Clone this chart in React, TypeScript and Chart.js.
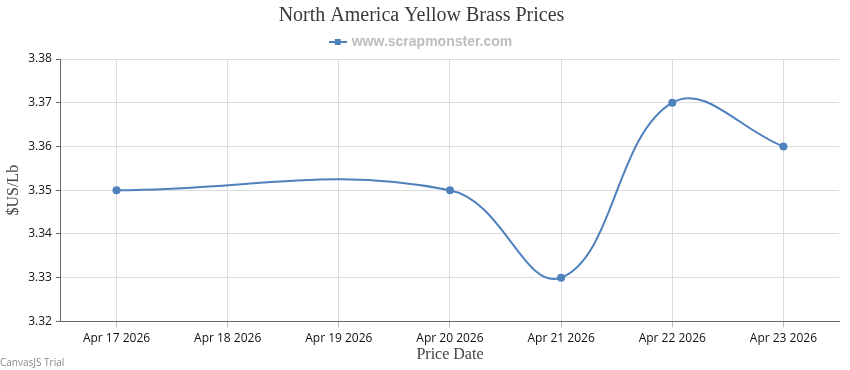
import React, { useEffect, useRef } from "react";
import { Chart, registerables } from "chart.js";

Chart.register(...registerables);

const tickLabels = [
  "Apr 17 2026",
  "Apr 18 2026",
  "Apr 19 2026",
  "Apr 20 2026",
  "Apr 21 2026",
  "Apr 22 2026",
  "Apr 23 2026",
];
const pointDates = ["Apr 17 2026", "Apr 20 2026", "Apr 21 2026", "Apr 22 2026", "Apr 23 2026"];
const prices = [3.35, 3.35, 3.33, 3.37, 3.36];
const yTicks = [3.32, 3.33, 3.34, 3.35, 3.36, 3.37, 3.38];

const LINE = "#4F81BC";

function makeMarker(): HTMLCanvasElement {
  const c = document.createElement("canvas");
  c.width = 18;
  c.height = 8;
  const ctx = c.getContext("2d")!;
  ctx.fillStyle = LINE;
  ctx.fillRect(0, 3, 18, 2);
  ctx.fillRect(6, 1, 6, 6);
  return c;
}

export default function App() {
  const ref = useRef<HTMLCanvasElement | null>(null);
  useEffect(() => {
    document.body.style.margin = "0";
    const marker = makeMarker();
    const data = pointDates.map((d, i) => ({ x: tickLabels.indexOf(d), y: prices[i] }));
    const chart = new Chart(ref.current!, {
      type: "line",
      data: {
        datasets: [
          {
            label: "www.scrapmonster.com",
            data,
            borderColor: LINE,
            backgroundColor: LINE,
            borderWidth: 2,
            pointRadius: 4,
            pointHoverRadius: 4,
            pointBackgroundColor: LINE,
            pointBorderWidth: 0,
            tension: 0.4,
            pointStyle: "circle",
          },
        ],
      },
      options: {
        animation: false,
        responsive: false,
        maintainAspectRatio: false,
        layout: { padding: { left: 4, right: 11, top: 2, bottom: 6 } },
        plugins: {
          tooltip: { enabled: false },
          title: {
            display: true,
            text: "North America Yellow Brass Prices",
            color: "#3A3A3A",
            font: { family: "'Liberation Serif', serif", size: 20, weight: "normal" },
            padding: { top: 2, bottom: 0 },
          },
          legend: {
            display: true,
            labels: {
              usePointStyle: true,
              color: "#BDBDBD",
              font: { family: "'Liberation Sans', Arial, sans-serif", size: 14, weight: "bold" },
              padding: 7,
              generateLabels: (ch: any) =>
                ch.data.datasets.map((ds: any, i: number) => ({
                  text: ds.label,
                  fontColor: "#BDBDBD",
                  pointStyle: marker,
                  datasetIndex: i,
                  hidden: false,
                  lineWidth: 0,
                })),
            },
          },
        },
        scales: {
          x: {
            type: "linear",
            min: -0.5,
            max: 6.5,
            afterBuildTicks: (scale: any) => {
              scale.ticks = tickLabels.map((_, i) => ({ value: i }));
            },
            ticks: {
              autoSkip: false,
              maxRotation: 0,
              color: "#111",
              font: { family: "'Open Sans', sans-serif", size: 12 },
              padding: 4,
              callback: (v: any) => tickLabels[Math.round(Number(v))] ?? "",
            },
            grid: { color: "#DCDCDC", tickColor: "#BBBBBB", tickLength: 6, drawOnChartArea: true },
            border: { color: "#666", width: 1 },
            title: {
              display: true,
              text: "Price Date",
              color: "#444",
              font: { family: "'Liberation Serif', serif", size: 16 },
              padding: { top: -5, bottom: 0 },
            },
          },
          y: {
            min: 3.32,
            max: 3.38,
            afterBuildTicks: (scale: any) => {
              scale.ticks = yTicks.map((v) => ({ value: v }));
            },
            ticks: {
              color: "#111",
              font: { family: "'Open Sans', sans-serif", size: 12 },
              padding: 4,
              callback: (v: any) => Number(v).toFixed(2),
            },
            grid: { color: "#DCDCDC", tickColor: "#666", tickLength: 5 },
            border: { color: "#666", width: 1 },
            title: {
              display: true,
              text: "$US/Lb",
              color: "#444",
              font: { family: "'Liberation Serif', serif", size: 16 },
              padding: { top: 0, bottom: 1 },
            },
          },
        },
      },
    });
    return () => chart.destroy();
  }, []);
  return (
    <div style={{ position: "relative", width: 850, height: 370, background: "#fff" }}>
      <canvas ref={ref} width={850} height={370} style={{ display: "block" }} />
      <div
        style={{
          position: "absolute",
          left: 0,
          top: 356,
          fontFamily: "'Open Sans', sans-serif",
          fontSize: 10,
          color: "#888",
          lineHeight: "12px",
        }}
      >
        CanvasJS Trial
      </div>
    </div>
  );
}
